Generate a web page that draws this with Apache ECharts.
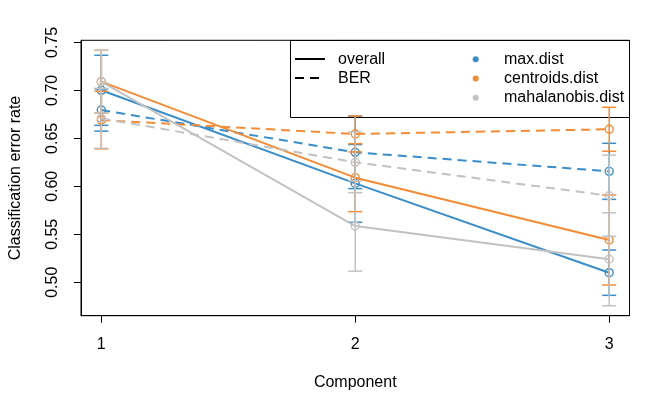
<!DOCTYPE html>
<html lang="en">
<head>
    <meta charset="UTF-8"/>
    <script src="https://cdn.jsdelivr.net/npm/echarts@6/dist/echarts.min.js"></script>
    <title>Classification error rate</title>
</head>
<body style="margin:0;background:#fff">
<div id="main" style="width:670px;height:414px;"></div>
<script type="text/javascript">
    // data
    var components = [1, 2, 3];
    var yTicks = [0.50, 0.55, 0.60, 0.65, 0.70, 0.75];

    var maxOverall = [0.700, 0.603, 0.510];
    var maxOverallSd = [0.0365, 0.0405, 0.0236];
    var maxBER = [0.6795, 0.6354, 0.6156];
    var maxBERSd = [0.022, 0.0378, 0.0292];

    var centOverall = [0.709, 0.609, 0.5441];
    var centOverallSd = [0.0327, 0.0354, 0.0469];
    var centBER = [0.669, 0.6545, 0.6594];
    var centBERSd = [0.030, 0.0187, 0.0229];

    var mahaOverall = [0.709, 0.5586, 0.524];
    var mahaOverallSd = [0.0327, 0.047, 0.0484];
    var mahaBER = [0.6708, 0.625, 0.5902];
    var mahaBERSd = [0.0312, 0.0317, 0.0423];

    var colBlue = '#388ECC', colOrange = '#F68B33', colGrey = '#C2C2C2';
    var font = '"Liberation Sans", Arial, sans-serif';
    var fs = 16;

    function pts(vals) {
        return components.map(function (c, i) { return [c, vals[i]]; });
    }
    function bars(vals, sds) {
        return components.map(function (c, i) { return [c, vals[i] - sds[i], vals[i] + sds[i]]; });
    }

    // one line per distance / measure, open circles at each component
    function lineSeries(name, vals, col, dashed, z) {
        return {
            name: name,
            type: 'line',
            data: pts(vals),
            z: z,
            symbol: 'circle',
            symbolSize: 8,
            itemStyle: {color: 'rgba(0,0,0,0)', borderColor: col, borderWidth: 1.4},
            lineStyle: {color: col, width: 2, type: dashed ? [9, 6] : 'solid'},
            emphasis: {disabled: true},
            animation: false
        };
    }

    // mean +/- sd error bars
    function errSeries(vals, sds, col, z) {
        return {
            type: 'custom',
            data: bars(vals, sds),
            z: z,
            animation: false,
            renderItem: function (params, api) {
                var lo = api.coord([api.value(0), api.value(1)]);
                var hi = api.coord([api.value(0), api.value(2)]);
                var w = 7;
                var st = {stroke: col, lineWidth: 1.5};
                return {
                    type: 'group',
                    children: [
                        {type: 'line', shape: {x1: lo[0], y1: lo[1], x2: hi[0], y2: hi[1]}, style: st},
                        {type: 'line', shape: {x1: lo[0] - w, y1: lo[1], x2: lo[0] + w, y2: lo[1]}, style: st},
                        {type: 'line', shape: {x1: hi[0] - w, y1: hi[1], x2: hi[0] + w, y2: hi[1]}, style: st}
                    ]
                };
            }
        };
    }

    var myChart = echarts.init(document.getElementById('main'));

    option = {
        backgroundColor: '#fff',
        textStyle: {fontFamily: font},
        grid: {
            left: 78.3, right: 40.5, top: 40.3, bottom: 98.3,
            show: true, borderColor: '#000', borderWidth: 1, backgroundColor: 'transparent'
        },
        xAxis: {
            type: 'value', min: 0.92, max: 3.08,
            name: 'Component', nameLocation: 'middle', nameGap: 59,
            nameTextStyle: {color: '#000', fontSize: fs, fontFamily: font},
            axisLine: {show: true, lineStyle: {color: '#000'}},
            axisTick: {show: true, length: 7, lineStyle: {color: '#000'}, customValues: components},
            axisLabel: {color: '#000', fontSize: fs, margin: 21, customValues: components,
                formatter: function (v) { return String(v); }},
            splitLine: {show: false}
        },
        yAxis: {
            type: 'value', min: 0.4652, max: 0.7521,
            name: 'Classification error rate', nameLocation: 'middle', nameGap: 57,
            nameTextStyle: {color: '#000', fontSize: fs, fontFamily: font},
            axisLine: {show: true, lineStyle: {color: '#000'}},
            axisTick: {show: true, length: 7, lineStyle: {color: '#000'}, customValues: yTicks},
            axisLabel: {color: '#000', fontSize: fs, margin: 20, rotate: 90, customValues: yTicks,
                formatter: function (v) { return v.toFixed(2); }},
            splitLine: {show: false}
        },
        // legend box (drawn under the series, like in R)
        graphic: [
            {type: 'rect', z: 1, shape: {x: 290.5, y: 40.5, width: 339, height: 77},
                style: {fill: '#fff', stroke: '#000', lineWidth: 1}},
            {type: 'line', z: 1, shape: {x1: 295, y1: 59, x2: 325, y2: 59},
                style: {stroke: '#000', lineWidth: 2}},
            {type: 'line', z: 1, shape: {x1: 295, y1: 78, x2: 325, y2: 78},
                style: {stroke: '#000', lineWidth: 2, lineDash: [9, 6]}},
            {type: 'text', z: 1, x: 338, y: 60, style: {text: 'overall', fill: '#000', font: fs + 'px ' + font, verticalAlign: 'middle'}},
            {type: 'text', z: 1, x: 338, y: 79, style: {text: 'BER', fill: '#000', font: fs + 'px ' + font, verticalAlign: 'middle'}},
            {type: 'circle', z: 1, shape: {cx: 475.7, cy: 59.3, r: 3}, style: {fill: colBlue}},
            {type: 'circle', z: 1, shape: {cx: 475.7, cy: 78.5, r: 3}, style: {fill: colOrange}},
            {type: 'circle', z: 1, shape: {cx: 475.7, cy: 97.8, r: 3}, style: {fill: colGrey}},
            {type: 'text', z: 1, x: 504, y: 60, style: {text: 'max.dist', fill: '#000', font: fs + 'px ' + font, verticalAlign: 'middle'}},
            {type: 'text', z: 1, x: 504, y: 79, style: {text: 'centroids.dist', fill: '#000', font: fs + 'px ' + font, verticalAlign: 'middle'}},
            {type: 'text', z: 1, x: 504, y: 98, style: {text: 'mahalanobis.dist', fill: '#000', font: fs + 'px ' + font, verticalAlign: 'middle'}}
        ],
        series: [
            errSeries(maxOverall, maxOverallSd, colBlue, 3),
            errSeries(maxBER, maxBERSd, colBlue, 3),
            lineSeries('max.dist overall', maxOverall, colBlue, false, 3),
            lineSeries('max.dist BER', maxBER, colBlue, true, 3),
            errSeries(centOverall, centOverallSd, colOrange, 4),
            errSeries(centBER, centBERSd, colOrange, 4),
            lineSeries('centroids.dist overall', centOverall, colOrange, false, 4),
            lineSeries('centroids.dist BER', centBER, colOrange, true, 4),
            errSeries(mahaOverall, mahaOverallSd, colGrey, 5),
            errSeries(mahaBER, mahaBERSd, colGrey, 5),
            lineSeries('mahalanobis.dist overall', mahaOverall, colGrey, false, 5),
            lineSeries('mahalanobis.dist BER', mahaBER, colGrey, true, 5)
        ]
    };

    myChart.setOption(option);
</script>
</body>
</html>
